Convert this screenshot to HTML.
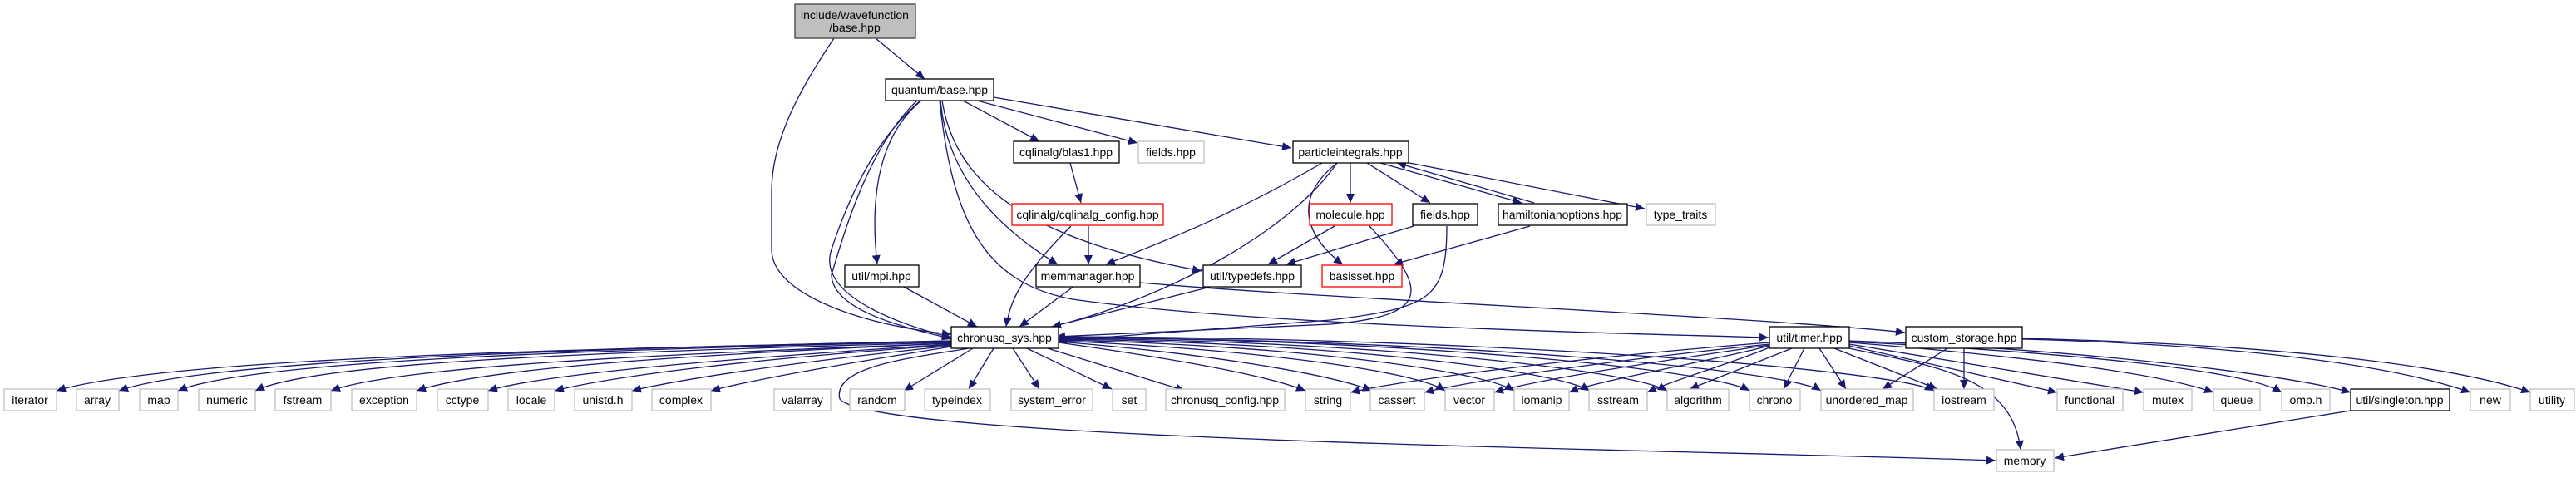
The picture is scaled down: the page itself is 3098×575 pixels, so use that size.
<!DOCTYPE html>
<html><head><meta charset="utf-8"><style>
html,body{margin:0;padding:0;background:#fff;}
svg{display:block;}
text{font-family:"Liberation Sans",Arial,sans-serif;font-size:14px;fill:#000;text-anchor:middle;}
.e{fill:none;stroke:#191970;stroke-width:1.3;marker-end:url(#a);}
.n{fill:#fff;stroke:#000;stroke-width:1.3;}
.g{fill:#fff;stroke:#bfbfbf;stroke-width:1.3;}
.r{fill:#fff;stroke:#ff0000;stroke-width:1.3;}
</style></head><body>
<svg width="3098" height="575" viewBox="0 0 3098 575" xmlns="http://www.w3.org/2000/svg">
<defs><marker id="a" markerUnits="userSpaceOnUse" markerWidth="12" markerHeight="10" refX="11" refY="5" orient="auto"><path d="M0,0 L11,5 L0,10 z" fill="#191970"/></marker></defs>
<!-- upper edges -->
<path class="e" d="M1053,46 L1112,95"/>
<path class="e" d="M1003,46 C960,110 928,170 928,230 L928,300 C928,360 1060,395 1144,402"/>
<path class="e" d="M1158,121 L1250,170"/>
<path class="e" d="M1175,121 L1368,172"/>
<path class="e" d="M1195,117 L1553,178"/>
<path class="e" d="M1108,121 C1060,160 1045,230 1055,318"/>
<path class="e" d="M1131,121 C1140,220 1210,280 1272,318"/>
<path class="e" d="M1133,121 C1150,230 1250,290 1445,326"/>
<path class="e" d="M1107,121 C1050,170 1020,240 1000,300 C980,360 1100,395 1144,406"/>
<path class="e" d="M1103,121 C1040,180 1010,300 1000,330 C1000,380 1120,400 1144,408"/>
<path class="e" d="M1130,121 C1145,260 1180,340 1290,360 C1500,390 1900,400 2127,406"/>
<path class="e" d="M1371,340 C1600,360 2100,380 2291,400"/>
<path class="e" d="M1287,196 L1300,244"/>
<path class="e" d="M1309,272 L1309,318"/>
<path class="e" d="M1288,272 C1230,330 1215,360 1210,393"/>
<path class="e" d="M1590,196 C1480,260 1400,290 1330,318"/>
<path class="e" d="M1608,196 C1550,280 1400,360 1265,393"/>
<path class="e" d="M1624,196 L1624,244"/>
<path class="e" d="M1644,196 L1720,244"/>
<path class="e" d="M1608,196 C1540,250 1590,300 1615,318"/>
<path class="e" d="M1660,196 L1830,244"/>
<path class="e" d="M1845,244 L1680,196"/>
<path class="e" d="M1695,196 L1978,251"/>
<path class="e" d="M1605,272 L1525,318"/>
<path class="e" d="M1647,272 C1720,350 1720,380 1600,390 L1270,405"/>
<path class="e" d="M1700,272 L1547,318"/>
<path class="e" d="M1740,272 C1740,360 1720,370 1600,385 L1272,410"/>
<path class="e" d="M1840,272 L1676,318"/>
<path class="e" d="M1460,344 L1265,393"/>
<path class="e" d="M1292,344 L1226,393"/>
<path class="e" d="M1085,344 L1175,393"/>
<!-- chronusq_sys out -->
<path class="e" d="M1144,410 C700,420 200,430 68,470"/>
<path class="e" d="M1144,410 C700,420 250,432 143,470"/>
<path class="e" d="M1144,411 C700,421 300,434 214,470"/>
<path class="e" d="M1144,412 C700,424 380,436 307,470"/>
<path class="e" d="M1144,413 C800,426 480,440 398,470"/>
<path class="e" d="M1144,413 C800,428 580,444 501,470"/>
<path class="e" d="M1144,414 C900,430 660,448 587,470"/>
<path class="e" d="M1144,415 C900,432 740,452 667,470"/>
<path class="e" d="M1144,416 C950,436 820,456 760,470"/>
<path class="e" d="M1144,417 C1000,440 900,458 855,470"/>
<path class="e" d="M1165,419 C1100,430 1000,440 1010,480 C1050,530 2000,540 2400,554"/>
<path class="e" d="M1170,419 L1087,470"/>
<path class="e" d="M1195,419 L1165,468"/>
<path class="e" d="M1218,419 L1250,468"/>
<path class="e" d="M1235,419 L1337,468"/>
<path class="e" d="M1260,419 L1425,470"/>
<path class="e" d="M1273,412 C1400,430 1520,450 1570,470"/>
<path class="e" d="M1273,411 C1450,425 1600,450 1650,470"/>
<path class="e" d="M1273,410 C1500,420 1700,445 1738,470"/>
<path class="e" d="M1273,409 C1550,415 1780,445 1821,470"/>
<path class="e" d="M1273,408 C1600,412 1870,445 1912,470"/>
<path class="e" d="M1273,407 C1650,410 1960,445 2005,470"/>
<path class="e" d="M1273,406 C1700,408 2060,445 2104,470"/>
<path class="e" d="M1273,406 C1750,408 2150,445 2190,470"/>
<path class="e" d="M1273,405 C1800,406 2280,445 2326,470"/>
<path class="e" d="M1273,401 L2127,409" style="display:none"/>
<!-- timer out -->
<path class="e" d="M2128,412 C1900,430 1700,455 1624,472"/>
<path class="e" d="M2128,414 C1950,432 1780,456 1713,472"/>
<path class="e" d="M2128,415 C2000,434 1850,456 1797,472"/>
<path class="e" d="M2128,416 C2050,436 1920,458 1887,472"/>
<path class="e" d="M2128,418 C2080,438 2010,458 1981,472"/>
<path class="e" d="M2155,419 L2032,468"/>
<path class="e" d="M2170,419 L2145,468"/>
<path class="e" d="M2188,419 L2220,468"/>
<path class="e" d="M2206,419 L2330,468"/>
<path class="e" d="M2224,419 C2320,440 2420,450 2430,541"/>
<path class="e" d="M2224,416 L2474,472"/>
<path class="e" d="M2224,414 L2578,472"/>
<path class="e" d="M2224,412 C2450,430 2600,450 2662,472"/>
<path class="e" d="M2224,411 C2500,425 2700,445 2744,472"/>
<path class="e" d="M2224,410 C2500,420 2750,450 2827,472"/>
<!-- custom out -->
<path class="e" d="M2342,419 L2264,468"/>
<path class="e" d="M2362,419 L2362,468"/>
<path class="e" d="M2432,408 C2700,415 2880,440 2971,472"/>
<path class="e" d="M2432,407 C2750,415 2950,440 3043,472"/>
<path class="e" d="M2827,494 L2471,551"/>
<!-- nodes -->
<rect x="956" y="5" width="145" height="41" fill="#bfbfbf" stroke="#404040" stroke-width="1.3"/>
<text x="1028" y="23">include/wavefunction</text><text x="1028" y="38">/base.hpp</text>
<g>
<rect class="n" x="1065" y="95" width="130" height="26"/><text x="1130" y="113">quantum/base.hpp</text>
<rect class="n" x="1219" y="170" width="127" height="26"/><text x="1282" y="188">cqlinalg/blas1.hpp</text>
<rect class="g" x="1369" y="170" width="79" height="26"/><text x="1408" y="188">fields.hpp</text>
<rect class="n" x="1555" y="170" width="139" height="26"/><text x="1624" y="188">particleintegrals.hpp</text>
<rect class="r" x="1217" y="245" width="182" height="26"/><text x="1308" y="263">cqlinalg/cqlinalg_config.hpp</text>
<rect class="r" x="1575" y="245" width="99" height="26"/><text x="1624" y="263">molecule.hpp</text>
<rect class="n" x="1699" y="245" width="78" height="26"/><text x="1738" y="263">fields.hpp</text>
<rect class="n" x="1802" y="245" width="155" height="26"/><text x="1879" y="263">hamiltonianoptions.hpp</text>
<rect class="g" x="1980" y="245" width="83" height="26"/><text x="2021" y="263">type_traits</text>
<rect class="n" x="1016" y="319" width="89" height="26"/><text x="1060" y="337">util/mpi.hpp</text>
<rect class="n" x="1246" y="319" width="125" height="26"/><text x="1308" y="337">memmanager.hpp</text>
<rect class="n" x="1447" y="319" width="118" height="26"/><text x="1506" y="337">util/typedefs.hpp</text>
<rect class="r" x="1590" y="319" width="96" height="26"/><text x="1638" y="337">basisset.hpp</text>
<rect class="n" x="1144" y="393" width="129" height="26"/><text x="1208" y="411">chronusq_sys.hpp</text>
<rect class="n" x="2128" y="393" width="96" height="26"/><text x="2176" y="411">util/timer.hpp</text>
<rect class="n" x="2292" y="393" width="140" height="26"/><text x="2362" y="411">custom_storage.hpp</text>
</g>
<g>
<rect class="g" x="5" y="468" width="63" height="26"/><text x="36" y="486">iterator</text>
<rect class="g" x="92" y="468" width="51" height="26"/><text x="117" y="486">array</text>
<rect class="g" x="168" y="468" width="46" height="26"/><text x="191" y="486">map</text>
<rect class="g" x="239" y="468" width="68" height="26"/><text x="273" y="486">numeric</text>
<rect class="g" x="331" y="468" width="67" height="26"/><text x="364" y="486">fstream</text>
<rect class="g" x="423" y="468" width="78" height="26"/><text x="462" y="486">exception</text>
<rect class="g" x="526" y="468" width="61" height="26"/><text x="556" y="486">cctype</text>
<rect class="g" x="611" y="468" width="56" height="26"/><text x="639" y="486">locale</text>
<rect class="g" x="691" y="468" width="69" height="26"/><text x="725" y="486">unistd.h</text>
<rect class="g" x="784" y="468" width="71" height="26"/><text x="819" y="486">complex</text>
<rect class="g" x="931" y="468" width="68" height="26"/><text x="965" y="486">valarray</text>
<rect class="g" x="1022" y="468" width="66" height="26"/><text x="1055" y="486">random</text>
<rect class="g" x="1112" y="468" width="79" height="26"/><text x="1151" y="486">typeindex</text>
<rect class="g" x="1216" y="468" width="98" height="26"/><text x="1265" y="486">system_error</text>
<rect class="g" x="1338" y="468" width="40" height="26"/><text x="1358" y="486">set</text>
<rect class="g" x="1402" y="468" width="143" height="26"/><text x="1473" y="486">chronusq_config.hpp</text>
<rect class="g" x="1570" y="468" width="54" height="26"/><text x="1597" y="486">string</text>
<rect class="g" x="1648" y="468" width="65" height="26"/><text x="1680" y="486">cassert</text>
<rect class="g" x="1738" y="468" width="59" height="26"/><text x="1767" y="486">vector</text>
<rect class="g" x="1821" y="468" width="66" height="26"/><text x="1854" y="486">iomanip</text>
<rect class="g" x="1911" y="468" width="70" height="26"/><text x="1946" y="486">sstream</text>
<rect class="g" x="2005" y="468" width="74" height="26"/><text x="2042" y="486">algorithm</text>
<rect class="g" x="2104" y="468" width="61" height="26"/><text x="2134" y="486">chrono</text>
<rect class="g" x="2190" y="468" width="111" height="26"/><text x="2245" y="486">unordered_map</text>
<rect class="g" x="2326" y="468" width="72" height="26"/><text x="2362" y="486">iostream</text>
<rect class="g" x="2474" y="468" width="79" height="26"/><text x="2513" y="486">functional</text>
<rect class="g" x="2578" y="468" width="58" height="26"/><text x="2607" y="486">mutex</text>
<rect class="g" x="2662" y="468" width="56" height="26"/><text x="2690" y="486">queue</text>
<rect class="g" x="2744" y="468" width="58" height="26"/><text x="2773" y="486">omp.h</text>
<rect class="n" x="2827" y="468" width="119" height="26"/><text x="2886" y="486">util/singleton.hpp</text>
<rect class="g" x="2971" y="468" width="48" height="26"/><text x="2995" y="486">new</text>
<rect class="g" x="3043" y="468" width="53" height="26"/><text x="3069" y="486">utility</text>
<rect class="g" x="2401" y="541" width="69" height="26"/><text x="2435" y="559">memory</text>
</g>
</svg>
</body></html>
